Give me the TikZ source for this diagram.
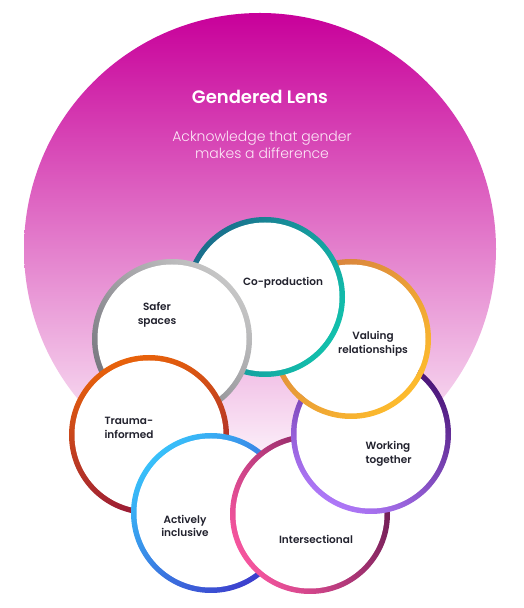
\documentclass[tikz,border=0pt]{standalone}
\usepackage{fontspec}
\setmainfont{Poppins}[BoldFont={Poppins SemiBold}]
\newfontfamily\lightfont{Poppins Light}
\usepackage{xcolor}
\definecolor{lenstop}{HTML}{C8009A}
\definecolor{lensmid}{HTML}{FF8EE6}
\definecolor{lensbot}{HTML}{FFFFFF}
\definecolor{subtext}{HTML}{FDE8F7}
\definecolor{labelink}{HTML}{22222E}
\definecolor{coA}{HTML}{1A6E8C}
\definecolor{coB}{HTML}{12C0AC}
\definecolor{safeA}{HTML}{C6C6C6}
\definecolor{safeB}{HTML}{76767E}
\definecolor{valA}{HTML}{D6803F}
\definecolor{valB}{HTML}{FDBB2D}
\definecolor{trauA}{HTML}{E8620A}
\definecolor{trauB}{HTML}{961838}
\definecolor{workA}{HTML}{4A1577}
\definecolor{workB}{HTML}{AE78F8}
\definecolor{actA}{HTML}{38C0FA}
\definecolor{actB}{HTML}{3C3CCC}
\definecolor{interA}{HTML}{6A1A52}
\definecolor{interB}{HTML}{F5559E}

\begin{document}
\begin{tikzpicture}[x=1pt, y=1pt,
    bubble/.style={circle, minimum size=160pt, inner sep=0pt,
      path picture={\fill[white] (path picture bounding box.center) circle (74.5pt);}},
    tag/.style={font=\bfseries\fontsize{10.5}{13.5}\selectfont, text=labelink, align=center}]
  \useasboundingbox (0,0) rectangle (523,608);
  \node[circle, minimum size=472pt, inner sep=0pt, top color=lenstop, middle color=lensmid, bottom color=lensbot] (lens) at (260,359) {};
  \node[font=\bfseries\fontsize{18}{22}\selectfont, text=white] (title) at (260,511) {Gendered Lens};
  \node[font=\lightfont\fontsize{14}{16.5}\selectfont, text=subtext, align=center] (subtitle) at (262,463) {Acknowledge that gender\\makes a difference};

  \node[bubble, top color=valA, bottom color=valB, shading angle=45] (valuing) at (351,269) {};
  \node[bubble, top color=coA, bottom color=coB, shading angle=60] (coprod) at (265,311) {};
  \node[bubble, top color=safeA, bottom color=safeB, shading angle=-45] (safer) at (172,269) {};
  \node[bubble, top color=trauA, bottom color=trauB, shading angle=15] (trauma) at (149,173) {};
  \node[bubble, top color=actA, bottom color=actB, shading angle=45] (actively) at (211,95) {};
  \node[bubble, top color=interA, bottom color=interB, shading angle=-60] (inter) at (310,94) {};
  \node[bubble, top color=workA, bottom color=workB, shading angle=-30] (working) at (371,174) {};
  % valuing sits over working
  \begin{scope}
    \clip (working.center) circle (83pt);
    \fill[white] (valuing.center) circle (74.5pt);
    \shade[even odd rule, top color=valA, bottom color=valB, shading angle=45] (valuing.center) circle (80pt) circle (74.5pt);
  \end{scope}

  \node[tag] (coprodtxt) at (283,325) {Co-production};
  \node[tag] (safertxt) at (157,293) {Safer\\spaces};
  \node[tag] (valuingtxt) at (373,264) {Valuing\\relationships};
  \node[tag, align=left, anchor=west] (traumatxt) at (101,180) {Trauma-\\informed};
  \node[tag, align=left, anchor=west] (workingtxt) at (362,154) {Working\\together};
  \node[tag] (activelytxt) at (185,82) {Actively\\inclusive};
  \node[tag] (intertxt) at (316,69) {Intersectional};
\end{tikzpicture}
\end{document}
